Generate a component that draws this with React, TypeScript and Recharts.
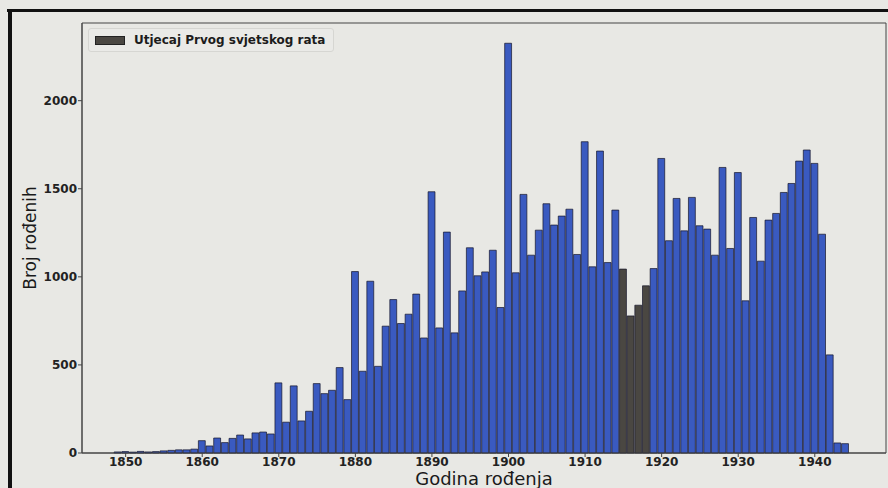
import React from 'react';
import {
  BarChart,
  Bar,
  Cell,
  XAxis,
  YAxis,
  Legend,
  ReferenceArea,
} from 'recharts';

// births per year, 1849 .. 1944
const FIRST_YEAR = 1849;
const births = [
  6, 8, 5, 9, 6, 8, 12, 15, 18, 18, 22,
  70, 40, 85, 59, 83, 102, 80, 114, 119, 108,
  398, 175, 381, 182, 237, 394, 337, 356, 485, 303,
  1030, 464, 975, 492, 720, 871, 735, 788, 902, 653,
  1483, 710, 1254, 682, 920, 1165, 1006, 1028, 1151, 826,
  2326, 1023, 1468, 1123, 1265, 1415, 1294, 1345, 1384, 1127,
  1767, 1057, 1714, 1081, 1379, 1044, 778, 839, 949, 1047,
  1672, 1205, 1445, 1261, 1451, 1290, 1271, 1123, 1621, 1161,
  1592, 864, 1337, 1089, 1322, 1360, 1479, 1530, 1657, 1720,
  1644, 1242, 557, 57, 53,
];
const warYears = [1915, 1916, 1917, 1918];
const xTicks = [1850, 1860, 1870, 1880, 1890, 1900, 1910, 1920, 1930, 1940];
const yTicks = [0, 500, 1000, 1500, 2000];
const legendLabel = 'Utjecaj Prvog svjetskog rata';

const X_MIN = 1844.3;
const X_MAX = 1949.3;
const Y_MAX = 2441;

const BLUE = '#3a5ac0';
const DARK = '#4a4742';
const PAPER = '#e8e8e4';

const data = births.map((n, i) => ({ year: FIRST_YEAR + i, n }));

function WarLegend() {
  return (
    <div
      style={{
        display: 'flex',
        alignItems: 'center',
        padding: '4px 8px 4px 6px',
        border: '1px solid #d6d6d2',
        borderRadius: 3,
        background: '#eaeae7',
        fontFamily: 'DejaVu Sans',
        fontSize: 12,
        fontWeight: 'bold',
        color: '#1c1c1c',
        whiteSpace: 'nowrap',
      }}
    >
      <span style={{ display: 'inline-block', width: 28, height: 7, background: DARK, border: '1px solid #222', marginRight: 9 }} />
      {legendLabel}
    </div>
  );
}

export default function App() {
  const tick = { fontSize: 12, fontWeight: 'bold', fill: '#222', fontFamily: 'DejaVu Sans' };
  return (
    <div style={{ position: 'absolute', left: 0, top: 0, width: 888, height: 488, background: PAPER, overflow: 'hidden', fontFamily: 'DejaVu Sans' }}>
      <div style={{ position: 'absolute', left: 7, top: 9, right: 0, height: 3, background: '#111' }} />
      <div style={{ position: 'absolute', left: 8, top: 9, bottom: 0, width: 4, background: '#111' }} />
      <BarChart
        width={888}
        height={488}
        data={data}
        margin={{ top: 23, right: 2, bottom: 0, left: 0 }}
        barCategoryGap={0}
      >
        <XAxis
          dataKey="year"
          type="number"
          domain={[X_MIN, X_MAX]}
          allowDataOverflow
          ticks={xTicks}
          height={35}
          tickSize={4}
          tickMargin={0}
          stroke="#444"
          tick={tick}
          label={{ value: 'Godina rođenja', position: 'insideBottom', offset: 3, fontSize: 18, fill: '#1a1a1a' }}
        />
        <YAxis
          domain={[0, Y_MAX]}
          ticks={yTicks}
          width={82}
          tickSize={4}
          tickMargin={1}
          stroke="#444"
          tick={tick}
          label={{ value: 'Broj rođenih', angle: -90, position: 'insideLeft', offset: 30, fontSize: 17, fill: '#1a1a1a', style: { textAnchor: 'middle' } }}
        />
        <Legend
          content={<WarLegend />}
          layout="horizontal"
          verticalAlign="middle"
          align="center"
          wrapperStyle={{ left: 88, top: 28, width: 'auto' }}
        />
        <Bar dataKey="n" barSize={7.66} stroke="#15152a" strokeWidth={0.7} isAnimationActive={false}>
          {data.map((d) => (
            <Cell key={d.year} fill={warYears.includes(d.year) ? DARK : BLUE} />
          ))}
        </Bar>
        <ReferenceArea x1={X_MIN} x2={X_MAX} y1={0} y2={Y_MAX} fill="none" stroke="#444" strokeWidth={1} />
      </BarChart>
    </div>
  );
}
